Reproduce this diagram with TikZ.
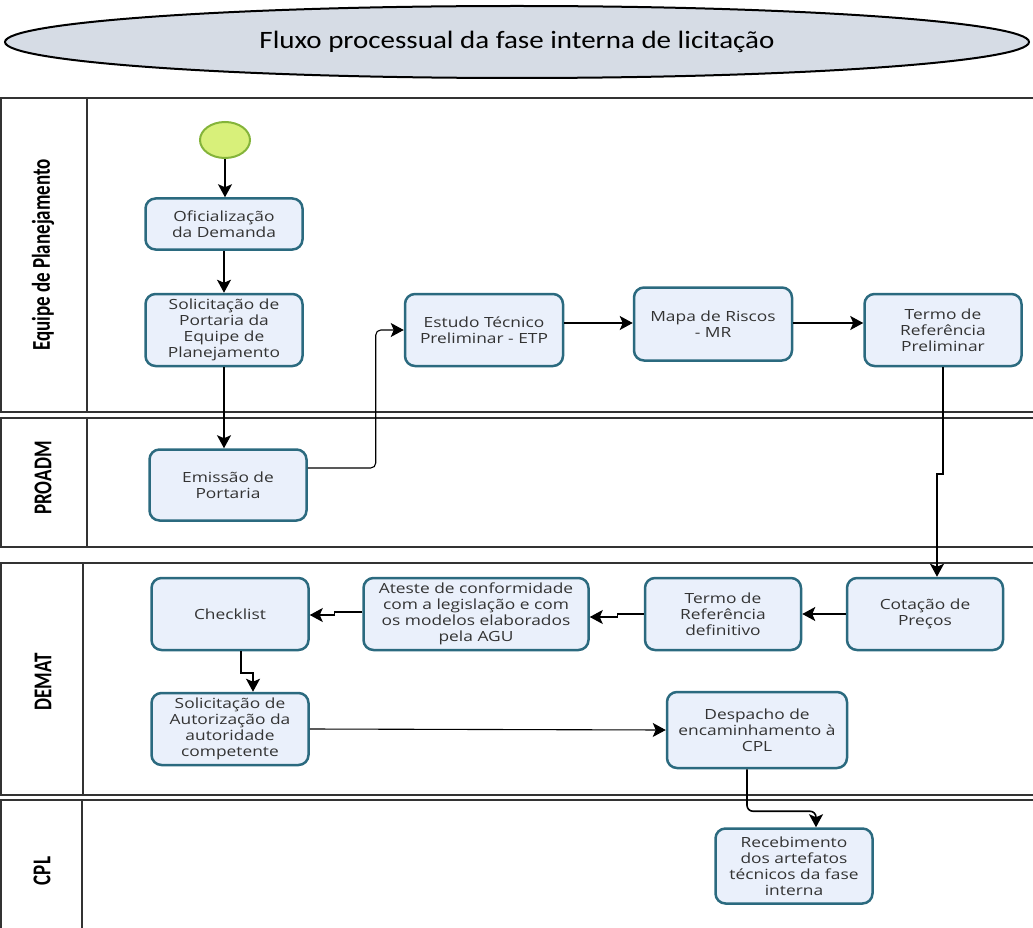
\documentclass[tikz,border=0pt]{standalone}
\usepackage{fontspec}
\setmainfont{Open Sans}
\newfontfamily\boxfont[FakeStretch=1.24]{Open Sans}
\newfontfamily\lanefont{Carlito}
\newfontfamily\titlefont[FakeStretch=1.16]{Carlito}
\usepackage{tikz}
\usetikzlibrary{arrows.meta,shapes.geometric,calc}
\definecolor{boxedge}{HTML}{2B6A7F}
\definecolor{boxfill}{HTML}{EAF0FB}
\definecolor{startfill}{HTML}{D8F07A}
\definecolor{startedge}{HTML}{84B43A}
\definecolor{titlefill}{HTML}{D6DCE5}
\definecolor{laneline}{HTML}{333333}
\tikzset{activity/.style={rectangle, rounded corners=10pt, draw=boxedge, line width=2.5pt, fill=boxfill, align=center, inner sep=1pt, text=black!80, font=\boxfont\fontsize{14}{16}\selectfont}, flow/.style={-{Stealth[length=13pt,width=14pt,inset=3pt]}, line width=1.6pt}, flowthin/.style={-{Stealth[length=13pt,width=14pt,inset=3pt]}, line width=1.1pt, rounded corners=5pt}, pool/.style={draw=laneline, line width=2pt}, lanelabel/.style={rotate=90, yscale=1.35, font=\lanefont\bfseries\fontsize{19}{22}\selectfont}}

\begin{document}
\begin{tikzpicture}[x=1pt,y=-1pt]
\useasboundingbox (0,0) rectangle (1033,928);
\node[ellipse, draw, line width=2pt, fill=titlefill, minimum width=1024pt, minimum height=72pt, font=\titlefont\fontsize{25}{30}\selectfont] (title) at (517,42) {Fluxo processual da fase interna de licitação};
\draw[pool] (1033,98) -- (1,98) -- (1,412) -- (1033,412) (87,98) -- (87,412);
\draw[pool] (1033,418) -- (1,418) -- (1,547) -- (1033,547) (87,418) -- (87,547);
\draw[pool] (1033,563) -- (1,563) -- (1,795) -- (1033,795) (83,563) -- (83,795);
\draw[pool] (1033,800) -- (1,800) -- (1,928) (82,800) -- (82,928);
\node[lanelabel] (equipe) at (43,255) {Equipe de Planejamento};
\node[lanelabel] (proadm) at (43,478) {PROADM};
\node[lanelabel] (demat) at (43,682) {DEMAT};
\node[lanelabel] (cpl) at (42,871) {CPL};
\node[ellipse, draw=startedge, fill=startfill, line width=2pt, minimum width=50pt, minimum height=36pt] (start) at (225,140) {};
\node[activity, minimum width=157pt, minimum height=51pt] (ofic) at (224,224) {Oficialização\\da Demanda};
\node[activity, minimum width=157pt, minimum height=72pt] (solic) at (224,330) {Solicitação de\\Portaria da\\Equipe de\\Planejamento};
\node[activity, minimum width=157pt, minimum height=71pt] (emis) at (228,485) {Emissão de\\Portaria};
\node[activity, minimum width=158pt, minimum height=72pt] (etp) at (484,330) {Estudo Técnico\\Preliminar - ETP};
\node[activity, minimum width=158pt, minimum height=73pt] (mr) at (713,324) {Mapa de Riscos\\- MR};
\node[activity, minimum width=157pt, minimum height=72pt] (trp) at (943,330) {Termo de\\Referência\\Preliminar};
\node[activity, minimum width=156pt, minimum height=72pt] (cot) at (925,614) {Cotação de\\Preços};
\node[activity, minimum width=156pt, minimum height=72pt] (tdef) at (723,614) {Termo de\\Referência\\definitivo};
\node[activity, minimum width=225pt, minimum height=72pt] (ateste) at (476,614) {Ateste de conformidade\\com a legislação e com\\os modelos elaborados\\pela AGU};
\node[activity, minimum width=157pt, minimum height=72pt] (check) at (230,614) {Checklist};
\node[activity, minimum width=157pt, minimum height=72pt] (autor) at (230,729) {Solicitação de\\Autorização da\\autoridade\\competente};
\node[activity, minimum width=180pt, minimum height=76pt] (desp) at (757,730) {Despacho de\\encaminhamento à\\CPL};
\node[activity, minimum width=157pt, minimum height=75pt] (receb) at (794,866) {Recebimento\\dos artefatos\\técnicos da fase\\interna};
\draw[flow] (start) -- (start |- ofic.north);
\draw[flow] (ofic.south) -- (solic.north);
\draw[flow] (solic.south) -- (solic.south |- emis.north);
\draw[flowthin] ([yshift=17pt]emis.east) -- ++(68,0) |- (etp.west);
\draw[flow] ([yshift=7pt]etp.east) -- ([yshift=7pt]etp.east -| mr.west);
\draw[flow] ([yshift=1pt]mr.east) -- ([yshift=1pt]mr.east -| trp.west);
\draw[flow] (trp.south) -- ++(0,107) -| ([xshift=12pt]cot.north);
\draw[flow] (cot.west) -- (tdef.east);
\draw[flowthin, rounded corners=0pt] (tdef.west) -- ++(-26,0) |- ([yshift=-3pt]ateste.east);
\draw[flowthin, rounded corners=0pt] ([yshift=2pt]ateste.west) -- ++(-28,0) |- ([yshift=-1pt]check.east);
\draw[flow] ([xshift=11pt]check.south) -- ++(0,22) -| ([xshift=23pt]autor.north);
\draw[flowthin] (autor.east) -- (desp.west);
\draw[flow, rounded corners=6pt] ([xshift=-10pt]desp.south) -- ++(0,42) -| ([xshift=22pt]receb.north);
\end{tikzpicture}
\end{document}
